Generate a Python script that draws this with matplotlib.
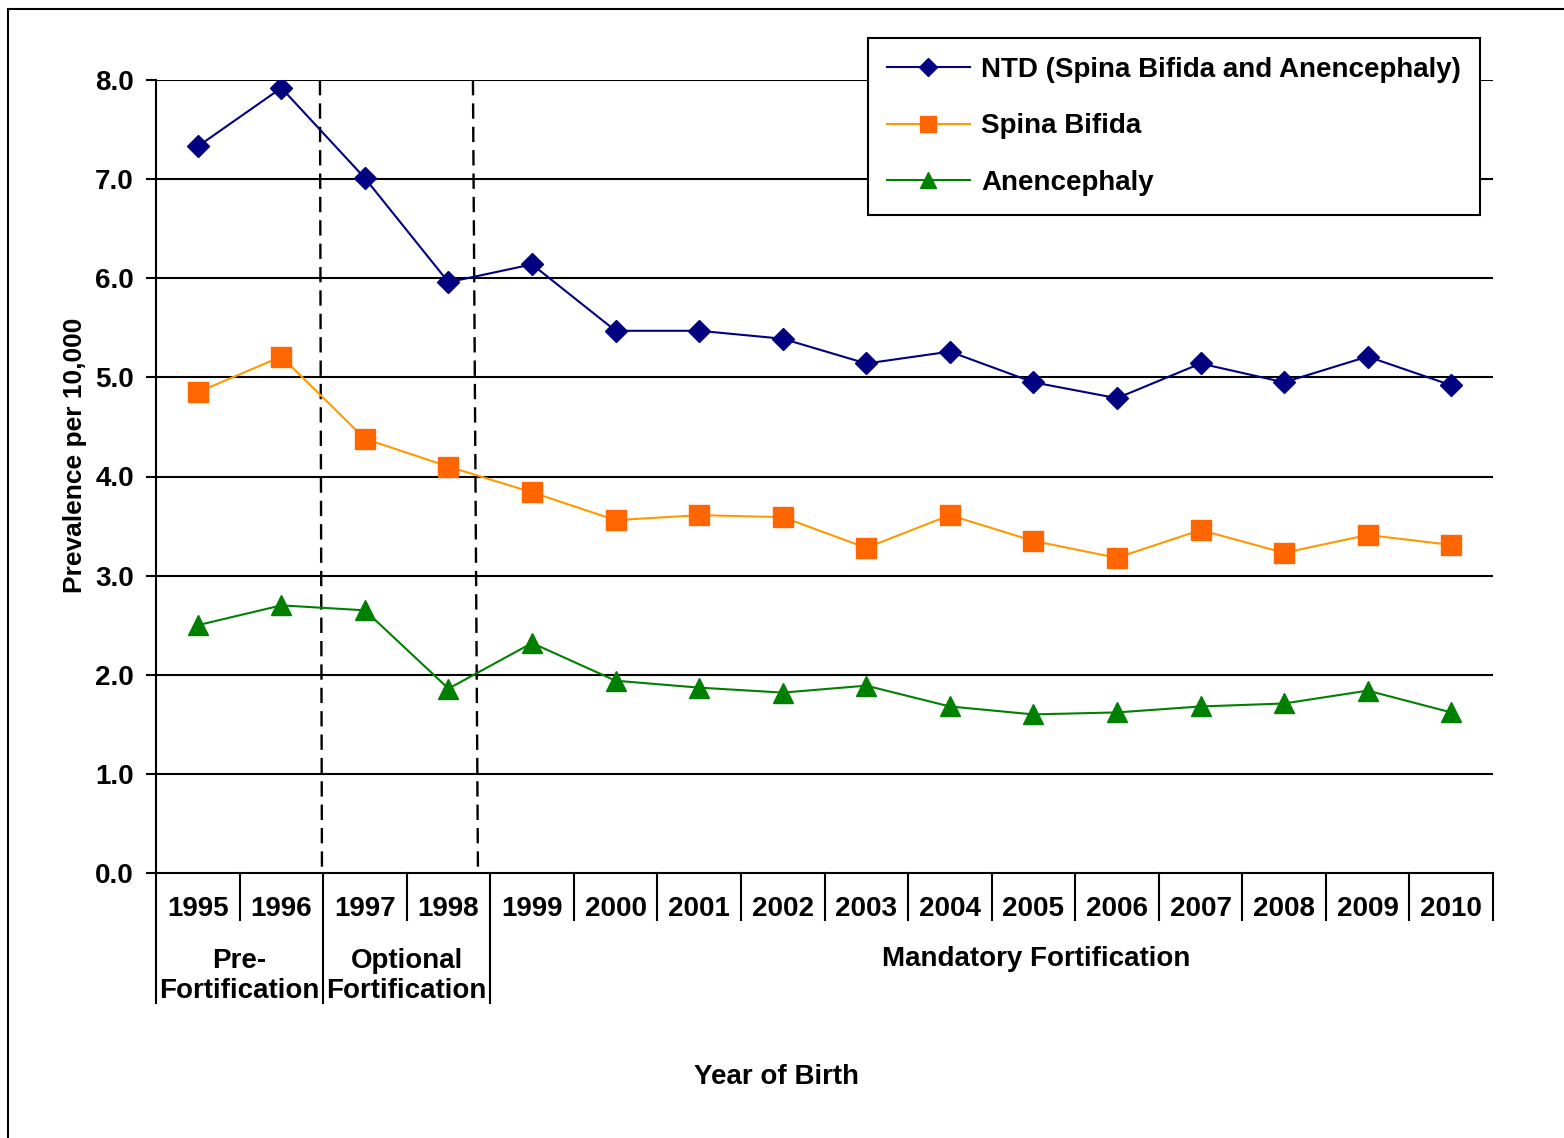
import matplotlib
matplotlib.use("Agg")
import matplotlib.pyplot as plt
from matplotlib.lines import Line2D
from matplotlib.patches import Rectangle
import matplotlib.transforms as mtransforms

years = ["1995", "1996", "1997", "1998", "1999", "2000", "2001", "2002",
         "2003", "2004", "2005", "2006", "2007", "2008", "2009", "2010"]
ntd = [7.33, 7.92, 7.01, 5.96, 6.14, 5.47, 5.47, 5.39, 5.14, 5.26, 4.95, 4.79, 5.14, 4.95, 5.21, 4.92]
spina_bifida = [4.85, 5.21, 4.38, 4.10, 3.84, 3.56, 3.61, 3.59, 3.28, 3.61, 3.35, 3.18, 3.46, 3.23, 3.41, 3.31]
anencephaly = [2.50, 2.70, 2.65, 1.86, 2.32, 1.94, 1.87, 1.82, 1.89, 1.68, 1.60, 1.62, 1.68, 1.71, 1.84, 1.62]
yticks = [0, 1, 2, 3, 4, 5, 6, 7, 8]
groups = ["Pre-\nFortification", "Optional\nFortification", "Mandatory Fortification"]

plt.rcParams['font.family'] = ['Liberation Sans', 'DejaVu Sans']
plt.rcParams['font.weight'] = 'bold'

FS = 20
W, H = 1564, 1138
fig = plt.figure(figsize=(W / 100, H / 100), dpi=100)
ax = fig.add_axes([156 / W, 1 - 873 / H, (1493 - 156) / W, (873 - 80) / H])

x = list(range(len(years)))
ax.plot(x, ntd, color='#000080', lw=1.5, marker='D', ms=11, mec='#000080', mfc='#000080', zorder=5)
ax.plot(x, spina_bifida, color='#FF9900', lw=1.5, marker='s', ms=14, mec='#FF6600', mfc='#FF6600', zorder=5)
ax.plot(x, anencephaly, color='#008000', lw=1.5, marker='^', ms=15, mec='#008000', mfc='#008000', zorder=5)

ax.set_xlim(-0.5, 15.5)
ax.set_ylim(0, 8)
ax.set_yticks(yticks)
ax.set_yticklabels([f"{v:.1f}" for v in yticks], fontsize=FS, fontweight='bold')
ax.tick_params(axis='y', length=7, width=1.5, direction='out', pad=9)
ax.set_xticks([])
for v in yticks[1:]:
    ax.axhline(v, color='black', lw=1.5, zorder=1)
for s in ['top', 'right']:
    ax.spines[s].set_visible(False)
ax.spines['left'].set_linewidth(1.5)
ax.spines['bottom'].set_linewidth(1.5)

# dashed separators
ax.plot([1.462, 1.486], [8, 0], color='black', lw=1.7, dashes=(6.5, 3.4), zorder=2)
ax.plot([3.293, 3.353], [8, 0], color='black', lw=1.7, dashes=(6.5, 3.4), zorder=2)

# category axis below
trans = mtransforms.blended_transform_factory(ax.transData, ax.transAxes)
axh = 873 - 80
short = -47 / axh
long = -130 / axh
group_edges = {-0.5, 1.5, 3.5}
for i in range(17):
    b = i - 0.5
    ylow = long if b in group_edges else short
    ax.add_line(Line2D([b, b], [0, ylow], transform=trans, color='black', lw=1.5, clip_on=False))
for i, yr in enumerate(years):
    ax.text(i, -36 / axh, yr, transform=trans, ha='center', va='center', fontsize=FS, fontweight='bold')
ax.text(0.5, -103 / axh, groups[0], transform=trans, ha='center', va='center', fontsize=FS,
        fontweight='bold', linespacing=1.2)
ax.text(2.5, -103 / axh, groups[1], transform=trans, ha='center', va='center', fontsize=FS,
        fontweight='bold', linespacing=1.2)
ax.text(10.03, -86 / axh, groups[2], transform=trans, ha='center', va='center', fontsize=FS,
        fontweight='bold')

fig.text(776 / W, 1 - 1077 / H, "Year of Birth", ha='center', va='center', fontsize=FS, fontweight='bold')
fig.text(75 / W, 1 - 455 / H, "Prevalence per 10,000", ha='center', va='center', rotation=90,
         fontsize=19, fontweight='bold')

handles = [
    Line2D([], [], color='#000080', lw=1.5, marker='D', ms=9, mfc='#000080', mec='#000080'),
    Line2D([], [], color='#FF9900', lw=1.5, marker='s', ms=11, mfc='#FF6600', mec='#FF6600'),
    Line2D([], [], color='#008000', lw=1.5, marker='^', ms=11, mfc='#008000', mec='#008000'),
]
labels = ["NTD (Spina Bifida and Anencephaly)", "Spina Bifida", "Anencephaly"]
leg = ax.legend(handles, labels, loc='upper right', bbox_to_anchor=(1480 / W, 1 - 38 / H),
                bbox_transform=fig.transFigure, borderaxespad=0, fancybox=False, framealpha=1,
                edgecolor='black', prop={'size': FS, 'weight': 'bold'}, labelspacing=1.1,
                handlelength=3.0, handletextpad=0.4, borderpad=0.68)
leg.get_frame().set_linewidth(1.5)
leg.set_zorder(10)

fig.patches.append(Rectangle((8 / W, -0.05), 1.2, 1 - 9 / H + 0.05, transform=fig.transFigure,
                             fill=False, edgecolor='black', lw=1.5))

fig.savefig("out.png", dpi=100)
